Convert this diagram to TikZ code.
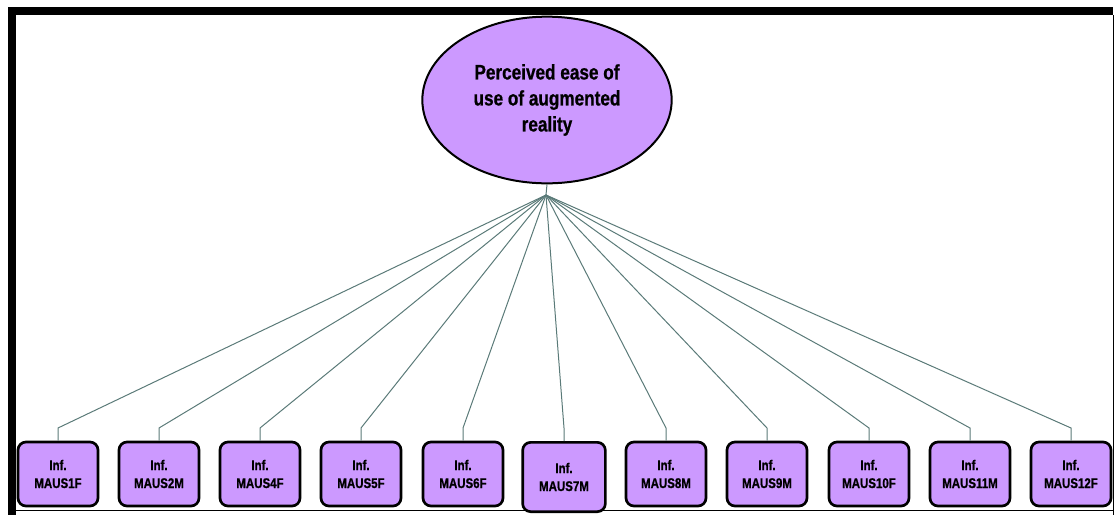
\documentclass[tikz,border=0pt]{standalone}
\usepackage{fontspec}
\newfontfamily\narrowsf[FakeStretch=0.82,BoldFeatures={FakeBold=0.8}]{Liberation Sans}
\usetikzlibrary{shapes.geometric}
\definecolor{latentfill}{HTML}{CC99FF}
\definecolor{pathline}{HTML}{5A7A78}

\tikzset{every picture/.style={line width=0.75pt}}
\tikzset{
  latent/.style={ellipse,draw,line width=1.5pt,fill=latentfill,inner sep=0pt,
    minimum width=187pt,minimum height=125pt,align=center,
    font=\narrowsf\bfseries\fontsize{15.7}{19.5}\selectfont},
  indicator/.style={draw,line width=2pt,rounded corners=6pt,fill=latentfill,
    minimum width=60pt,minimum height=48pt,align=center,
    font=\narrowsf\bfseries\fontsize{10.5}{13.5}\selectfont},
  loading/.style={draw=pathline,line width=0.75pt}
}

\begin{document}
\begin{tikzpicture}[x=0.75pt,y=0.75pt,yscale=-1,xscale=1]
\useasboundingbox (0,0) rectangle (1115,515);

% Frame
\fill (8,7) rectangle (16,515);
\fill (8,7) rectangle (1113,15);
\draw (1113.5,15) -- (1113.5,515);
\draw (16,510.5) -- (1113.5,510.5);

% Latent Node
\node[latent] (ease) at (547,100) {Perceived ease of\\use of augmented\\reality};
\coordinate (hub) at (546,195);
\coordinate (stub) at (0,428);

% Indicator Nodes
\node[indicator] (maus1f) at (58,474) {Inf.\\MAUS1F};
\node[indicator] (maus2m) at (159,474) {Inf.\\MAUS2M};
\node[indicator] (maus4f) at (260,474) {Inf.\\MAUS4F};
\node[indicator] (maus5f) at (361,474) {Inf.\\MAUS5F};
\node[indicator] (maus6f) at (463,474) {Inf.\\MAUS6F};
\node[indicator,minimum width=62pt,minimum height=52pt] (maus7m) at (564,477) {Inf.\\MAUS7M};
\node[indicator] (maus8m) at (666,474) {Inf.\\MAUS8M};
\node[indicator] (maus9m) at (767,474) {Inf.\\MAUS9M};
\node[indicator] (maus10f) at (869,474) {Inf.\\MAUS10F};
\node[indicator] (maus11m) at (970,474) {Inf.\\MAUS11M};
\node[indicator] (maus12f) at (1071,474) {Inf.\\MAUS12F};

% Loadings
\draw[loading] (ease.south) -- (hub);
\draw[loading] (hub) -- (maus1f.north |- stub) -- (maus1f.north);
\draw[loading] (hub) -- (maus2m.north |- stub) -- (maus2m.north);
\draw[loading] (hub) -- (maus4f.north |- stub) -- (maus4f.north);
\draw[loading] (hub) -- (maus5f.north |- stub) -- (maus5f.north);
\draw[loading] (hub) -- (maus6f.north |- stub) -- (maus6f.north);
\draw[loading] (hub) -- (maus7m.north |- stub) -- (maus7m.north);
\draw[loading] (hub) -- (maus8m.north |- stub) -- (maus8m.north);
\draw[loading] (hub) -- (maus9m.north |- stub) -- (maus9m.north);
\draw[loading] (hub) -- (maus10f.north |- stub) -- (maus10f.north);
\draw[loading] (hub) -- (maus11m.north |- stub) -- (maus11m.north);
\draw[loading] (hub) -- (maus12f.north |- stub) -- (maus12f.north);

\end{tikzpicture}
\end{document}
